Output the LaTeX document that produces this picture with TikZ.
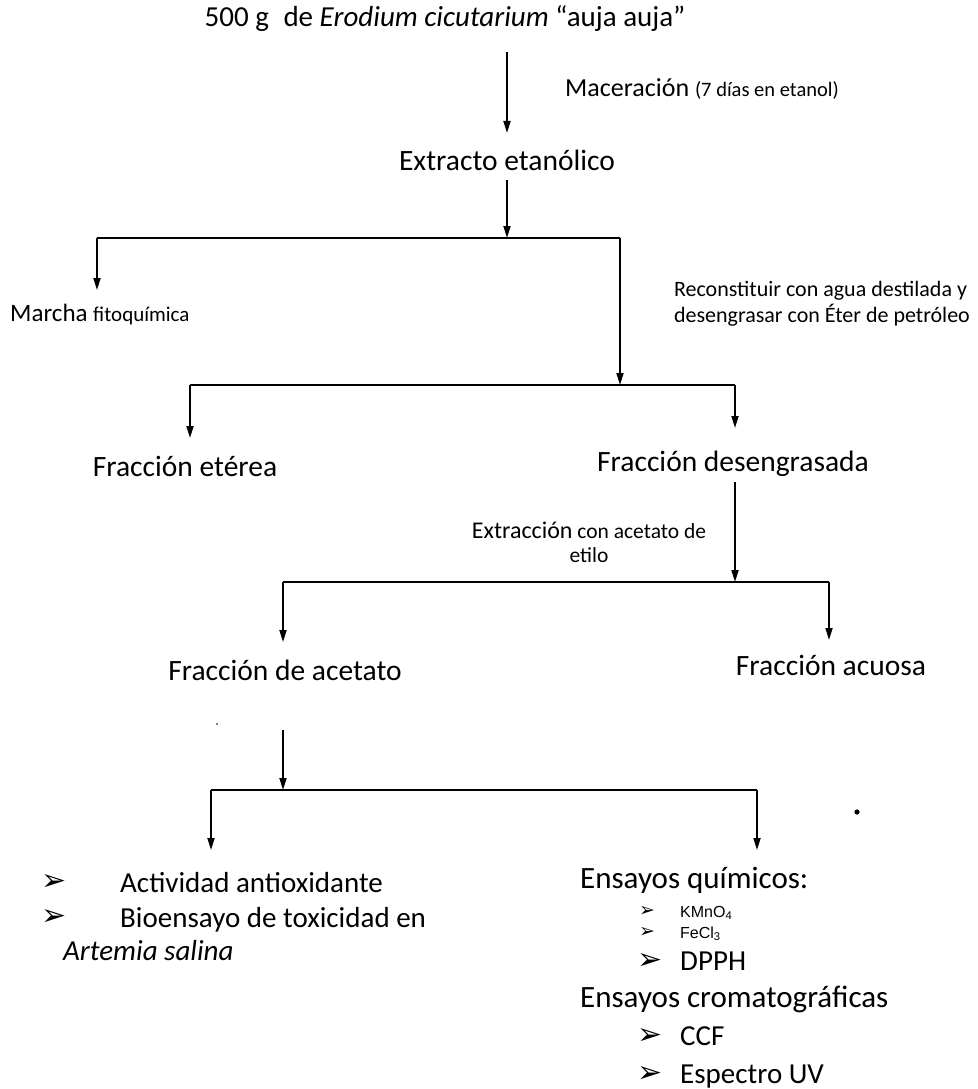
\documentclass[tikz,border=0pt]{standalone}
\usepackage{fontspec}
\setmainfont{Carlito}
\newfontfamily\dejavu{DejaVu Sans}
\newfontfamily\arialish{Liberation Sans}
\usetikzlibrary{arrows.meta}
\tikzset{
  lbl/.style={inner sep=0pt, anchor=base, font=\fontsize{29.5}{34}\selectfont},
  bar/.style={line width=2.4pt},
  arr/.style={line width=1.7pt, -{Triangle[length=12pt,width=7pt]}},
  bul/.style={inner sep=0pt, anchor=center, font=\dejavu\fontsize{30}{34}\selectfont},
  sbul/.style={inner sep=0pt, anchor=center, font=\dejavu\fontsize{19}{22}\selectfont},
  item/.style={inner sep=0pt, anchor=base west, font=\fontsize{29}{34}\selectfont},
  chem/.style={inner sep=0pt, anchor=base west, font=\arialish\fontsize{16}{19}\selectfont},
}
\begin{document}
\begin{tikzpicture}[x=1pt,y=-1pt]
\useasboundingbox (0,0) rectangle (977,1089);
% nodes
\node[lbl, font=\fontsize{29}{34}\selectfont] (src) at (445,27) {500 g\; de \textit{Erodium cicutarium} “auja auja”};
\node[lbl, anchor=base west] (mac) at (565,97) {\fontsize{26}{30}\selectfont Maceración \fontsize{20.5}{24}\selectfont(7 días en etanol)};
\node[lbl] (ext) at (507,170) {Extracto etanólico};
\node[lbl, anchor=base west] (mar) at (10,321) {\fontsize{25}{30}\selectfont Marcha \fontsize{21}{25}\selectfont fitoquímica};
\node[lbl, anchor=base east, align=left, font=\fontsize{22}{26}\selectfont] (rec) at (970,322) {Reconstituir con agua destilada y\\desengrasar con Éter de petróleo};
\node[lbl] (ete) at (185,476) {Fracción etérea};
\node[lbl] (des) at (733,471) {Fracción desengrasada};
\node[lbl, align=center, font=\fontsize{21.5}{24}\selectfont] (ace) at (589,562) {{\fontsize{24}{28}\selectfont Extracción} con acetato de\\etilo};
\node[lbl] (fac) at (285,680) {Fracción de acetato};
\node[lbl] (acu) at (831,675) {Fracción acuosa};
% junctions
\coordinate (a0) at (507,52);
\coordinate (a1) at (507,133);
\coordinate (e0) at (507,180);
\coordinate (j1) at (507,238);
\coordinate (j1l) at (97,238);
\coordinate (j1r) at (620,238);
\coordinate (m0) at (97,290);
\coordinate (j2) at (620,385);
\coordinate (j2l) at (190,385);
\coordinate (j2r) at (735,385);
\coordinate (f1) at (190,438);
\coordinate (f2) at (735,428);
\coordinate (d0) at (735,482);
\coordinate (j3) at (735,582);
\coordinate (j3l) at (283,582);
\coordinate (j3r) at (829,582);
\coordinate (f3) at (283,642);
\coordinate (f4) at (829,640);
\coordinate (s4) at (283,730);
\coordinate (j4) at (283,790);
\coordinate (j4l) at (211,790);
\coordinate (j4r) at (757,790);
\coordinate (f5) at (211,850);
\coordinate (f6) at (757,850);
% connectors
\draw[arr] (a0) -- (a1);
\draw[arr] (e0) -- (j1);
\draw[bar] (j1l) -- (j1r);
\draw[arr] (j1l) -- (m0);
\draw[arr] (j1r) -- (j2);
\draw[bar] (j2l) -- (j2r);
\draw[arr] (j2l) -- (f1);
\draw[arr] (j2r) -- (f2);
\draw[arr] (d0) -- (j3);
\draw[bar] (j3l) -- (j3r);
\draw[arr] (j3l) -- (f3);
\draw[arr] (j3r) -- (f4);
\draw[arr] (s4) -- (j4);
\draw[bar] (j4l) -- (j4r);
\draw[arr] (j4l) -- (f5);
\draw[arr] (j4r) -- (f6);
% dots
\fill (217,724) circle (0.9pt);
\fill (857,812) circle (2.6pt);
% bottom left list
\node[bul] (b1) at (54,882) {➢};
\node[item] (t1) at (120,892) {Actividad antioxidante};
\node[bul] (b2) at (54,917) {➢};
\node[item] (t2) at (120,927) {Bioensayo de toxicidad en};
\node[item] (t3) at (63,960) {\textit{Artemia salina}};
% bottom right list
\node[item, font=\fontsize{31}{36}\selectfont] (q) at (580,888) {Ensayos químicos:};
\node[sbul] (b3) at (647,911) {➢};
\node[chem] (t4) at (680,917) {KMnO\textsubscript{4}};
\node[sbul] (b4) at (647,932) {➢};
\node[chem] (t5) at (680,938) {FeCl\textsubscript{3}};
\node[bul] (b5) at (650,961) {➢};
\node[item] (t6) at (680,970) {DPPH};
\node[bul] (b6) at (650,1036) {➢};
\node[item, font=\fontsize{31}{36}\selectfont] (c) at (580,1007) {Ensayos cromatográficas};
\node[item] (t7) at (680,1045) {CCF};
\node[bul] (b7) at (650,1074) {➢};
\node[item] (t8) at (680,1083) {Espectro UV};
\end{tikzpicture}
\end{document}
